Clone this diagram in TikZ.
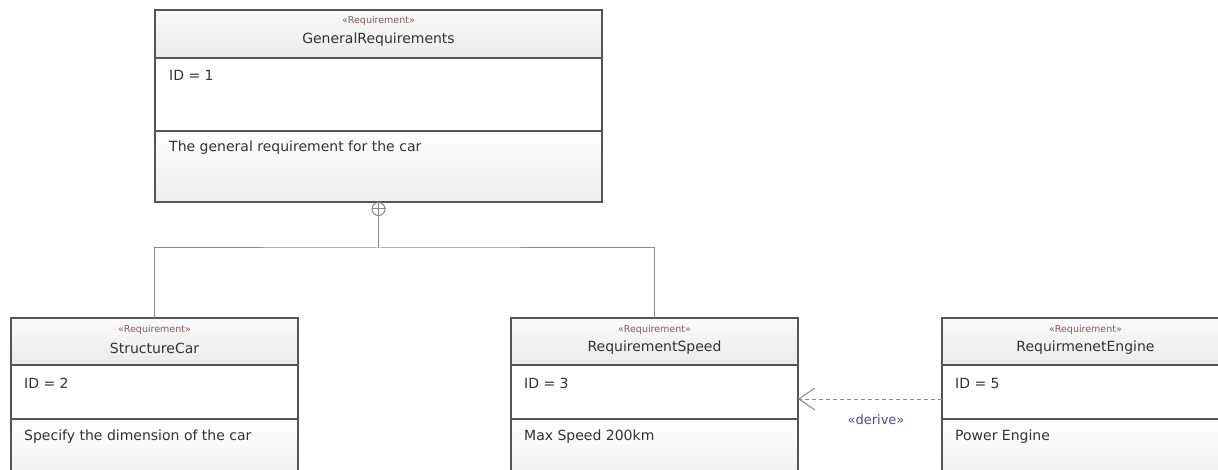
\documentclass[tikz,border=0pt]{standalone}
\usepackage{fontspec}
\setmainfont{DejaVu Sans}
\usetikzlibrary{arrows.meta}
\definecolor{boxline}{HTML}{555555}
\definecolor{connline}{HTML}{8A8A8A}
\definecolor{stereocol}{HTML}{8A5A5A}
\definecolor{derivecol}{HTML}{4A4AA8}
\definecolor{txtcol}{HTML}{333333}
\tikzset{
  boxbase/.style={draw=boxline, line width=1.3pt, inner sep=0pt, outer sep=0pt, anchor=north west},
  hdr/.style={boxbase, top color=gray!4, bottom color=gray!16},
  cmp/.style={boxbase, fill=white},
  lastcmp/.style={boxbase, top color=white, bottom color=gray!14},
  stereo/.style={font=\fontsize{9.5}{10}\selectfont, text=stereocol, inner sep=0pt},
  title/.style={font=\fontsize{14}{16}\selectfont, text=txtcol, inner sep=0pt},
  body/.style={font=\fontsize{14}{16}\selectfont, text=txtcol, inner sep=0pt, anchor=west, text height=10pt, text depth=3pt},
  conn/.style={draw=connline, line width=1pt},
  dep/.style={draw=connline, line width=1pt, dash pattern=on 4pt off 3pt, -{Straight Barb[length=16pt,width=22pt,line width=1pt]}},
  derivelbl/.style={font=\fontsize{13}{15}\selectfont, text=derivecol, inner sep=0pt}
}
\begin{document}
\begin{tikzpicture}[x=1pt,y=-1pt]
\useasboundingbox (0,0) rectangle (1218,470);
\clip (0,0) rectangle (1218,470);
\fill[white] (0,0) rectangle (1218,470);

% GeneralRequirements
\node[hdr, minimum width=447pt, minimum height=48pt] (genH) at (155,10) {};
\node[cmp, minimum width=447pt, minimum height=73pt] (genI) at (genH.south west) {};
\node[lastcmp, minimum width=447pt, minimum height=71pt] (genD) at (genI.south west) {};
\node[stereo] (genS) at ([yshift=-11pt]genH.north) {«Requirement»};
\node[title] (genT) at ([yshift=-30pt]genH.north) {GeneralRequirements};
\node[body] (genIT) at ([xshift=14pt,yshift=-19pt]genI.north west) {ID = 1};
\node[body] (genDT) at ([xshift=14pt,yshift=-17pt]genD.north west) {The general requirement for the car};

% StructureCar
\node[hdr, minimum width=287pt, minimum height=47pt] (scH) at (11,318) {};
\node[cmp, minimum width=287pt, minimum height=54pt] (scI) at (scH.south west) {};
\node[lastcmp, minimum width=287pt, minimum height=70pt] (scD) at (scI.south west) {};
\node[stereo] (scS) at ([yshift=-12pt]scH.north) {«Requirement»};
\node[title] (scT) at ([yshift=-30pt]scH.north) {StructureCar};
\node[body] (scIT) at ([xshift=13pt,yshift=-20pt]scI.north west) {ID = 2};
\node[body] (scDT) at ([xshift=13pt,yshift=-18pt]scD.north west) {Specify the dimension of the car};

% RequirementSpeed
\node[hdr, minimum width=287pt, minimum height=47pt] (rsH) at (511,318) {};
\node[cmp, minimum width=287pt, minimum height=54pt] (rsI) at (rsH.south west) {};
\node[lastcmp, minimum width=287pt, minimum height=70pt] (rsD) at (rsI.south west) {};
\node[stereo] (rsS) at ([yshift=-12pt]rsH.north) {«Requirement»};
\node[title] (rsT) at ([yshift=-30pt]rsH.north) {RequirementSpeed};
\node[body] (rsIT) at ([xshift=13pt,yshift=-20pt]rsI.north west) {ID = 3};
\node[body] (rsDT) at ([xshift=13pt,yshift=-18pt]rsD.north west) {Max Speed 200km};

% RequirmenetEngine
\node[hdr, minimum width=287pt, minimum height=47pt] (reH) at (942,318) {};
\node[cmp, minimum width=287pt, minimum height=54pt] (reI) at (reH.south west) {};
\node[lastcmp, minimum width=287pt, minimum height=70pt] (reD) at (reI.south west) {};
\node[stereo] (reS) at ([yshift=-12pt]reH.north) {«Requirement»};
\node[title] (reT) at ([yshift=-30pt]reH.north) {RequirmenetEngine};
\node[body] (reIT) at ([xshift=13pt,yshift=-20pt]reI.north west) {ID = 5};
\node[body] (reDT) at ([xshift=13pt,yshift=-18pt]reD.north west) {Power Engine};

% containment
\node[circle, draw=connline, line width=1pt, fill=white, minimum size=13pt, inner sep=0pt, anchor=north] (cont) at (genD.south) {};
\draw[conn] (cont.north) -- (cont.south) (cont.west) -- (cont.east);
\coordinate (j) at (cont.south |- 0,248);
\draw[conn] (cont.south) -- (j);
\draw[conn] (scH.north) |- (j) -| (rsH.north);

% derive
\draw[dep] ([yshift=-34pt]reI.north west) -- ([yshift=-34pt]rsI.north east);
\node[derivelbl] (lbl) at (876,420) {«derive»};
\end{tikzpicture}
\end{document}
